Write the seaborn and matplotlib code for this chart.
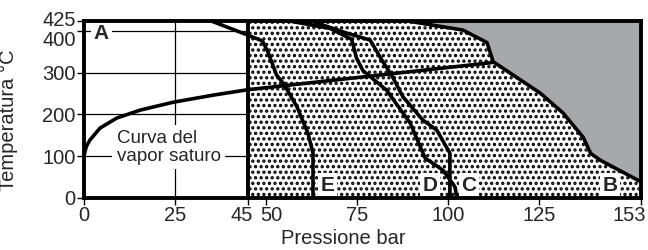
import matplotlib
matplotlib.use("Agg")
import matplotlib.pyplot as plt
import matplotlib.transforms as mtransforms
import seaborn as sns
import numpy as np
import pandas as pd

# ---- data ----
sat_x = [0, 0.6, 1.6, 4.4, 9.0, 15.4, 24.5, 35.5, 45.0, 112.0]
sat_y = [100, 122, 138, 167, 191, 210, 229, 246, 259, 324]

B_x = [88.0, 104.1, 110.7, 112.4, 125.3, 131.6, 137.1, 139.2, 141.8, 153.0]
B_y = [425, 402, 372, 326, 251, 203, 145, 106, 90, 38]

C_x = [62.0, 72.1, 78.6, 82.1, 84.5, 87.6, 93.1, 96.9, 100.5, 100.5]
C_y = [425, 395, 378, 326, 294, 242, 186, 162, 107, 0]

D_x = [55.7, 67.6, 73.5, 74.9, 76.6, 83.1, 89.6, 93.7, 98.6, 101.9, 102.4]
D_y = [425, 406, 380, 334, 305, 258, 179, 95, 66, 26, 0]

E_x = [34.6, 45.0, 49.0, 50.5, 52.9, 54.7, 58.5, 61.5, 62.9, 62.9]
E_y = [425, 390, 376, 350, 294, 275, 218, 155, 107, 0]

region_labels = ["A", "B", "C", "D", "E"]
region_lx = [4.8, 144.5, 105.7, 95.0, 67.0]
region_ly = [395, 30, 30, 30, 30]

x_ticks = [0, 25, 45, 50, 75, 100, 125, 153]
y_ticks = [0, 100, 200, 300, 400, 425]
x_min, x_max = 0, 153
y_min, y_max = 0, 425
border_x = 45

sat_label = "Curva del\nvapor saturo"
sat_label_xy = (9.0, 121)

# ---- style ----
sns.set_style("ticks")
plt.rcParams["font.family"] = ["Liberation Sans", "DejaVu Sans"]
plt.rcParams["hatch.linewidth"] = 1.6
plt.rcParams["hatch.color"] = "black"

fig = plt.figure(figsize=(6.48, 2.5), dpi=100)
ax = fig.add_axes([84 / 648, 1 - 197.7 / 250, 557 / 648, 177.2 / 250])

ax.set_xlim(x_min, x_max)
ax.set_ylim(y_min, y_max)

# thin grid
for yv in [100, 200, 300, 400]:
    ax.axhline(yv, color="black", lw=0.9, zorder=0.5)
ax.axvline(25, color="black", lw=0.9, zorder=0.5)

# dotted region (x >= 45)
xs = np.array([border_x, x_max])
ax.fill_between(xs, y_min, y_max, facecolor="white", edgecolor="black",
                hatch="...", linewidth=0, zorder=1)
# grey region above curve B
ax.fill_between(B_x, B_y, y_max, facecolor="#a7a8aa", edgecolor="none",
                linewidth=0, zorder=1.5)

ax.axvline(border_x, color="black", lw=2.8, zorder=3)

lw = 2.6
for cx, cy in [(sat_x, sat_y), (B_x, B_y), (C_x, C_y), (D_x, D_y), (E_x, E_y)]:
    df = pd.DataFrame({"x": cx, "y": cy})
    sns.lineplot(data=df, x="x", y="y", sort=False, estimator=None,
                 color="black", lw=lw, ax=ax, zorder=4)

# region labels
for lab, lx, ly in zip(region_labels, region_lx, region_ly):
    ax.text(lx, ly, lab, ha="center", va="center", fontsize=15,
            fontweight="bold", zorder=5,
            bbox=dict(boxstyle="square,pad=0.12", facecolor="white",
                      edgecolor="none"))

ax.text(sat_label_xy[0], sat_label_xy[1], sat_label, ha="left", va="center",
        fontsize=13.5, linespacing=1.05, zorder=5,
        bbox=dict(boxstyle="square,pad=0.25", facecolor="white",
                  edgecolor="none"))

ax.set_xticks(x_ticks)
ax.set_xticklabels([str(t) for t in x_ticks])
ax.set_yticks(y_ticks)
ax.set_yticklabels([str(t) for t in y_ticks])
ax.tick_params(axis="both", direction="out", length=5, width=1,
               labelsize=14.5, pad=1, color="black")

# nudge crowded tick labels apart (pixel offsets)
def nudge(label, dx_px, dy_px):
    off = mtransforms.ScaledTranslation(dx_px / 100, dy_px / 100, fig.dpi_scale_trans)
    label.set_transform(label.get_transform() + off)

xl = ax.get_xticklabels()
nudge(xl[2], -6, 0)    # 45
nudge(xl[3], 5, 0)     # 50
nudge(xl[7], -12, 0)   # 153
yl = ax.get_yticklabels()
nudge(yl[4], 0, -8)    # 400
nudge(yl[5], 0, 2)     # 425

for sp in ax.spines.values():
    sp.set_visible(True)
    sp.set_linewidth(2.8)
    sp.set_color("black")
    sp.set_zorder(6)

ax.set_xlabel("Pressione bar", fontsize=14.5, labelpad=0)
ax.set_ylabel("Temperatura °C", fontsize=14.5, labelpad=2)
ax.xaxis.set_label_coords(0.465, -0.175)
ax.yaxis.set_label_coords(-0.118, 0.44)

fig.savefig("out.png", dpi=100)
